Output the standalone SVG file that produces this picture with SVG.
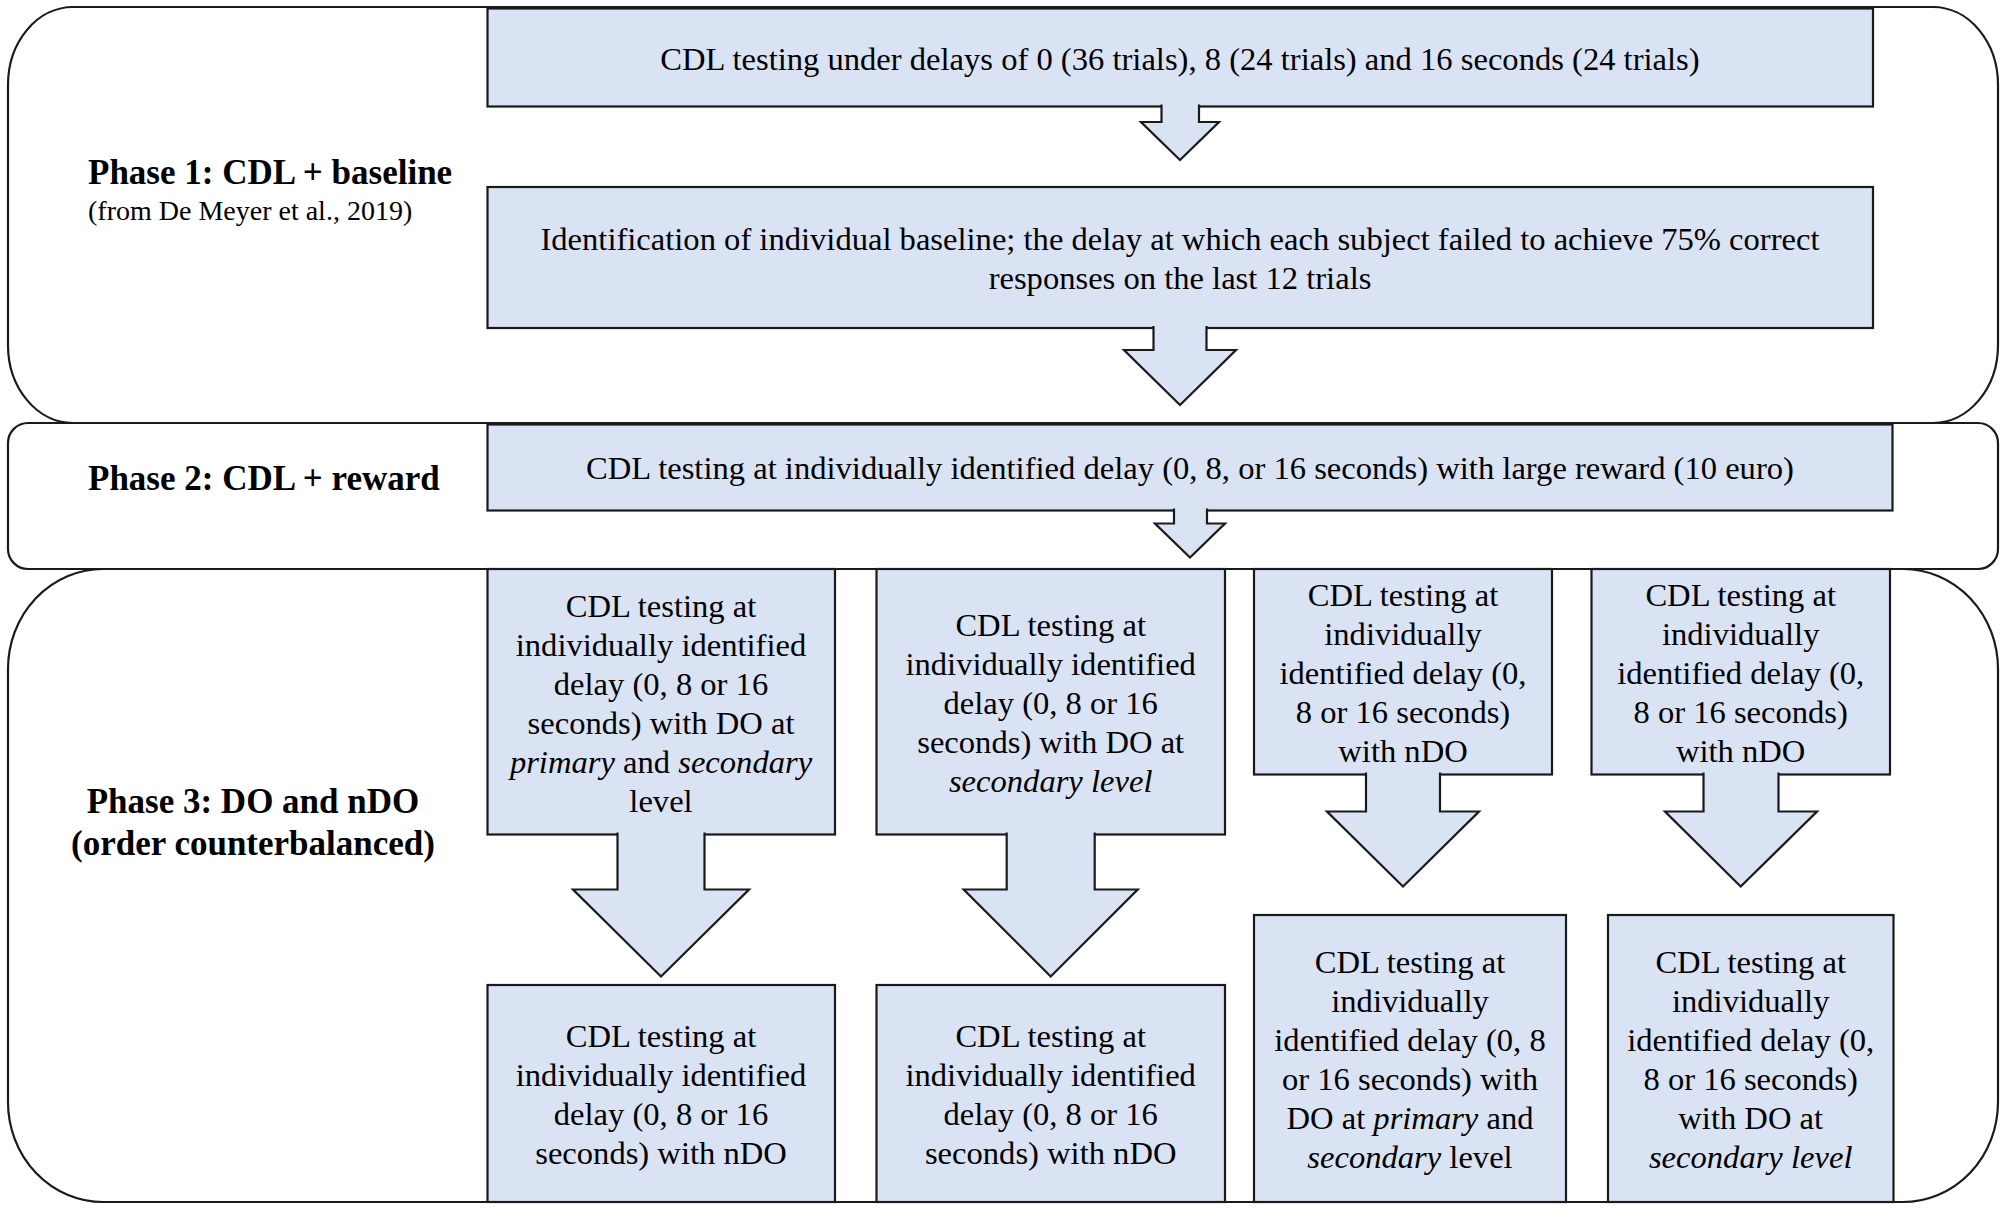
<svg xmlns="http://www.w3.org/2000/svg" width="2006" height="1210" viewBox="0 0 2006 1210">
<style>
.phase{fill:#fff;stroke:#1a1a1a;stroke-width:2.2}
.box{fill:#dae3f3;stroke:#1a1a1a;stroke-width:2.2}
.arr{fill:#dae3f3;stroke:#1a1a1a;stroke-width:2.2;stroke-linejoin:miter}
text{font-family:"Liberation Serif","Times New Roman",serif;fill:#000}
.t{font-size:32.6px;text-anchor:middle}
.lab{font-size:35px;font-weight:bold}
.sub{font-size:28px}
.i{font-style:italic}
</style>
<rect width="2006" height="1210" fill="#fff"/>
<g id="phase1"><rect class="phase" x="8" y="7" width="1990" height="416" rx="65" ry="78"/>
<text class="lab" x="88" y="184">Phase 1: CDL + baseline</text>
<text class="sub" x="88" y="220">(from De Meyer et al., 2019)</text></g>
<g id="phase2"><rect class="phase" x="8" y="423" width="1990" height="146" rx="20" ry="20"/>
<text class="lab" x="88" y="490">Phase 2: CDL + reward</text></g>
<g id="phase3"><rect class="phase" x="8" y="569" width="1990" height="633" rx="95" ry="100"/>
<text class="lab" x="253" y="813" text-anchor="middle">Phase 3: DO and nDO</text>
<text class="lab" x="253" y="855" text-anchor="middle">(order counterbalanced)</text></g>

<g id="boxA"><rect class="box" x="487.5" y="8.5" width="1385.5" height="98"/>
<text class="t" x="1180" y="70">CDL testing under delays of 0 (36 trials), 8 (24 trials) and 16 seconds (24 trials)</text></g>
<g id="boxB"><rect class="box" x="487.5" y="187" width="1385.5" height="141"/>
<text class="t" x="1180" y="250">Identification of individual baseline; the delay at which each subject failed to achieve 75% correct</text>
<text class="t" x="1180" y="289">responses on the last 12 trials</text></g>
<g id="boxP2"><rect class="box" x="487.5" y="424.5" width="1405" height="86"/>
<text class="t" x="1190" y="479">CDL testing at individually identified delay (0, 8, or 16 seconds) with large reward (10 euro)</text></g>

<g id="boxC1"><rect class="box" x="487.5" y="569" width="347.5" height="265.5"/>
<text class="t" x="661" y="617">CDL testing at</text>
<text class="t" x="661" y="656">individually identified</text>
<text class="t" x="661" y="695">delay (0, 8 or 16</text>
<text class="t" x="661" y="734">seconds) with DO at</text>
<text class="t" x="661" y="773"><tspan class="i">primary</tspan> and <tspan class="i">secondary</tspan></text>
<text class="t" x="661" y="812">level</text></g>
<g id="boxC1b"><rect class="box" x="487.5" y="985" width="347.5" height="217"/>
<text class="t" x="661" y="1047">CDL testing at</text>
<text class="t" x="661" y="1086">individually identified</text>
<text class="t" x="661" y="1125">delay (0, 8 or 16</text>
<text class="t" x="661" y="1164">seconds) with nDO</text></g>

<g id="boxC2"><rect class="box" x="876.5" y="569" width="348.5" height="265.5"/>
<text class="t" x="1050.7" y="636">CDL testing at</text>
<text class="t" x="1050.7" y="675">individually identified</text>
<text class="t" x="1050.7" y="714">delay (0, 8 or 16</text>
<text class="t" x="1050.7" y="753">seconds) with DO at</text>
<text class="t i" x="1050.7" y="792">secondary level</text></g>
<g id="boxC2b"><rect class="box" x="876.5" y="985" width="348.5" height="217"/>
<text class="t" x="1050.7" y="1047">CDL testing at</text>
<text class="t" x="1050.7" y="1086">individually identified</text>
<text class="t" x="1050.7" y="1125">delay (0, 8 or 16</text>
<text class="t" x="1050.7" y="1164">seconds) with nDO</text></g>

<g id="boxC3"><rect class="box" x="1254" y="569" width="298" height="205.5"/>
<text class="t" x="1403" y="606">CDL testing at</text>
<text class="t" x="1403" y="645">individually</text>
<text class="t" x="1403" y="684">identified delay (0,</text>
<text class="t" x="1403" y="723">8 or 16 seconds)</text>
<text class="t" x="1403" y="762">with nDO</text></g>
<g id="boxC3b"><rect class="box" x="1254" y="915" width="312" height="287"/>
<text class="t" x="1410" y="973">CDL testing at</text>
<text class="t" x="1410" y="1012">individually</text>
<text class="t" x="1410" y="1051">identified delay (0, 8</text>
<text class="t" x="1410" y="1090">or 16 seconds) with</text>
<text class="t" x="1410" y="1129">DO at <tspan class="i">primary</tspan> and</text>
<text class="t" x="1410" y="1168"><tspan class="i">secondary</tspan> level</text></g>

<g id="boxC4"><rect class="box" x="1591.5" y="569" width="298.5" height="205.5"/>
<text class="t" x="1740.7" y="606">CDL testing at</text>
<text class="t" x="1740.7" y="645">individually</text>
<text class="t" x="1740.7" y="684">identified delay (0,</text>
<text class="t" x="1740.7" y="723">8 or 16 seconds)</text>
<text class="t" x="1740.7" y="762">with nDO</text></g>
<g id="boxC4b"><rect class="box" x="1608" y="915" width="285.5" height="287"/>
<text class="t" x="1750.7" y="973">CDL testing at</text>
<text class="t" x="1750.7" y="1012">individually</text>
<text class="t" x="1750.7" y="1051">identified delay (0,</text>
<text class="t" x="1750.7" y="1090">8 or 16 seconds)</text>
<text class="t" x="1750.7" y="1129">with DO at</text>
<text class="t i" x="1750.7" y="1168">secondary level</text></g>

<g id="connectors">
<path class="arr" d="M1161.5,104.5 V122 H1141 L1180,160 L1219,122 H1199 V104.5"/>
<path class="arr" d="M1153.5,326 V350 H1124 L1180,405 L1236,350 H1206.5 V326"/>
<path class="arr" d="M1174,508.5 V523.5 H1155 L1190,557.5 L1225,523.5 H1207 V508.5"/>
<path class="arr" d="M617.5,832.5 V889.5 H573 L661,976.5 L749,889.5 H704.5 V832.5"/>
<path class="arr" d="M1006.7,832.5 V889.5 H963.7 L1050.7,976.5 L1137.7,889.5 H1094.7 V832.5"/>
<path class="arr" d="M1366,772.5 V811.5 H1327 L1403,886.5 L1479,811.5 H1440 V772.5"/>
<path class="arr" d="M1703.5,772.5 V811.5 H1665 L1740.7,886.5 L1817,811.5 H1778.5 V772.5"/>
</g>
</svg>
